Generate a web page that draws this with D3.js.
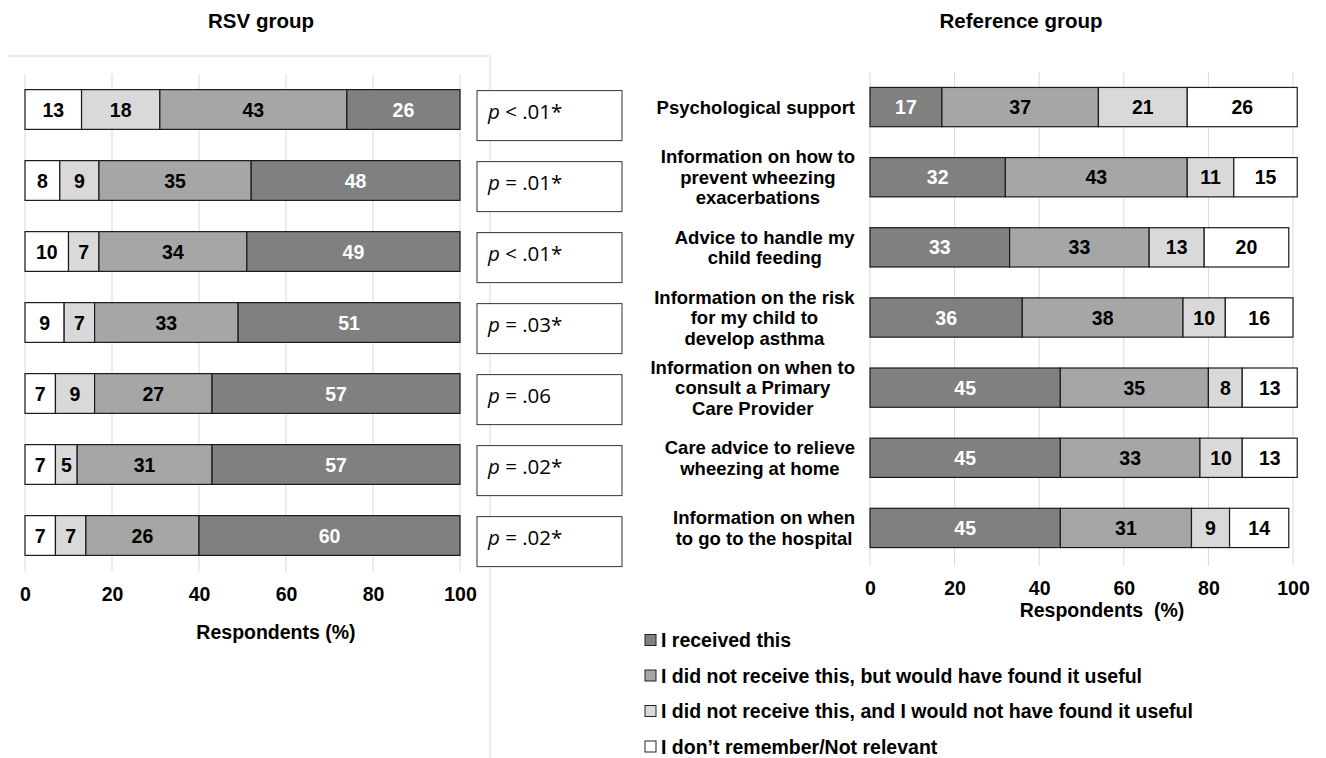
<!DOCTYPE html>
<html>
<head>
<meta charset="utf-8">
<script src="https://cdn.jsdelivr.net/npm/d3@7"></script>
<style>
  body { margin: 0; background: #fff; }
  svg text { font-family: "Liberation Sans", Arial, sans-serif; font-weight: bold; }
  .pval { font-family: "Open Sans", "Liberation Sans", sans-serif; font-weight: normal; }
</style>
</head>
<body>
<div id="chart"></div>
<script>
// data
const categories = [
  ["Psychological support"],
  ["Information on how to", "prevent wheezing", "exacerbations"],
  ["Advice to handle my", "child feeding"],
  ["Information on the risk", "for my child to", "develop asthma"],
  ["Information on when to", "consult a Primary", "Care Provider"],
  ["Care advice to relieve", "wheezing at home"],
  ["Information on when", "to go to the hospital"]
];
const seriesNames = [
  "I received this",
  "I did not receive this, but would have found it useful",
  "I did not receive this, and I would not have found it useful",
  "I don\u2019t remember/Not relevant"
];
const seriesColors = ["#808080", "#a6a6a6", "#d9d9d9", "#ffffff"];

// RSV group
const rsvReceived = [26, 48, 49, 51, 57, 57, 60];
const rsvUseful = [43, 35, 34, 33, 27, 31, 26];
const rsvNotUseful = [18, 9, 7, 7, 9, 5, 7];
const rsvDontRemember = [13, 8, 10, 9, 7, 7, 7];

// Reference group
const refReceived = [17, 32, 33, 36, 45, 45, 45];
const refUseful = [37, 43, 33, 38, 35, 33, 31];
const refNotUseful = [21, 11, 13, 10, 8, 10, 9];
const refDontRemember = [26, 15, 20, 16, 13, 13, 14];

const pSigns = ["<", "=", "<", "=", "=", "=", "="];
const pValues = [".01*", ".01*", ".01*", ".03*", ".06", ".02*", ".02*"];
const xTicks = [0, 20, 40, 60, 80, 100];

const W = 1326, H = 758;
const svg = d3.select("#chart").append("svg")
  .attr("width", W).attr("height", H);

// faint frame round the left panel
svg.append("line").attr("x1", 8).attr("x2", 490).attr("y1", 56).attr("y2", 56)
  .attr("stroke", "#e6e6e6").attr("stroke-width", 1.5);
svg.append("line").attr("x1", 490).attr("x2", 490).attr("y1", 56).attr("y2", H)
  .attr("stroke", "#e6e6e6").attr("stroke-width", 1.5);

function drawPanel(opt) {
  const x = d3.scaleLinear().domain([0, 100]).range(opt.xRange);
  const y = d3.scaleBand().domain(d3.range(categories.length))
    .range(opt.yRange).paddingInner(0.44).paddingOuter(0.22);

  const g = svg.append("g");

  // grid
  g.selectAll(".grid").data(xTicks).join("line")
    .attr("x1", d => x(d)).attr("x2", d => x(d))
    .attr("y1", opt.yRange[0]).attr("y2", opt.gridBottom)
    .attr("stroke", "#d9d9d9").attr("stroke-width", 1);

  // tick labels
  const ax = g.append("g")
    .attr("transform", "translate(0," + opt.tickY + ")")
    .call(d3.axisBottom(x).tickValues(xTicks).tickSize(0).tickPadding(0));
  ax.select(".domain").remove();
  ax.selectAll("text").attr("font-size", 19.5).attr("fill", "#000")
    .attr("dy", "0.35em").attr("y", 0)
    .style("font-family", "\"Liberation Sans\", Arial, sans-serif");

  // stacked bars
  categories.forEach((c, i) => {
    let acc = 0;
    opt.order.forEach(k => {
      const v = opt.series[k][i];
      const x0 = acc, x1 = acc + v;
      acc = x1;
      g.append("rect")
        .attr("x", x(x0)).attr("y", y(i))
        .attr("width", x(x1) - x(x0)).attr("height", y.bandwidth())
        .attr("fill", seriesColors[k]).attr("stroke", "#1a1a1a").attr("stroke-width", 1.2);
      g.append("text")
        .attr("x", (x(x0) + x(x1)) / 2).attr("y", y(i) + y.bandwidth() / 2)
        .attr("dy", "0.36em").attr("text-anchor", "middle")
        .attr("font-size", 19.5)
        .attr("fill", k === 0 ? "#fff" : "#000")
        .text(v);
    });
  });

  // axis title
  svg.append("text").attr("x", opt.axisTitleX).attr("y", opt.axisTitleY)
    .attr("text-anchor", "middle").attr("dy", "0.35em").attr("font-size", 19.5)
    .attr("xml:space", "preserve")
    .text(opt.axisTitle);

  // panel title
  svg.append("text").attr("x", opt.titleX).attr("y", 21)
    .attr("text-anchor", "middle").attr("dy", "0.35em").attr("font-size", 20.5)
    .text(opt.title);

  return { x, y };
}

// left panel: RSV group, stacked from "don't remember" up to "received"
const left = drawPanel({
  xRange: [25, 460], yRange: [74, 571], gridBottom: 572, tickY: 594,
  series: [rsvReceived, rsvUseful, rsvNotUseful, rsvDontRemember],
  order: [3, 2, 1, 0],
  axisTitle: "Respondents (%)", axisTitleX: 276, axisTitleY: 632,
  title: "RSV group", titleX: 261
});

// p-value boxes
const pg = svg.append("g");
pValues.forEach((p, i) => {
  const top = left.y(i) + 1;
  pg.append("rect").attr("x", 477).attr("y", top)
    .attr("width", 145).attr("height", 50)
    .attr("fill", "#fff").attr("stroke", "#333").attr("stroke-width", 1);
  const t = pg.append("text").attr("class", "pval")
    .attr("x", 488).attr("y", left.y(i) + left.y.bandwidth() / 2 + 2).attr("dy", "0.36em")
    .attr("font-size", 20.5).attr("xml:space", "preserve");
  t.append("tspan").attr("font-style", "italic").text("p");
  t.append("tspan").text(" " + pSigns[i] + " " + p);
});

// right panel: Reference group
const right = drawPanel({
  xRange: [870, 1293], yRange: [72, 563], gridBottom: 566, tickY: 588,
  series: [refReceived, refUseful, refNotUseful, refDontRemember],
  order: [0, 1, 2, 3],
  axisTitle: "Respondents  (%)", axisTitleX: 1102, axisTitleY: 610,
  title: "Reference group", titleX: 1021
});

// category labels, right edge near x=855
categories.forEach((lines, i) => {
  const cy = right.y(i) + right.y.bandwidth() / 2;
  const lh = 20.5;
  const t = svg.append("text").attr("text-anchor", "middle").attr("font-size", 18.5);
  lines.forEach((ln, j) => {
    t.append("tspan").attr("x", 756)
      .attr("y", cy + (j - (lines.length - 1) / 2) * lh)
      .attr("dy", "0.36em").text(ln);
  });
  const bb = t.node().getBBox();
  t.selectAll("tspan").attr("x", 855 - bb.width / 2);
});

// legend
const lg = svg.append("g");
seriesNames.forEach((name, i) => {
  const cy = 640 + i * 35.5;
  lg.append("rect").attr("x", 645).attr("y", cy - 5.5).attr("width", 11).attr("height", 11)
    .attr("fill", seriesColors[i]).attr("stroke", "#222").attr("stroke-width", 1);
  lg.append("text").attr("x", 661).attr("y", cy).attr("dy", "0.36em")
    .attr("font-size", 19.5).text(name);
});
</script>
</body>
</html>
